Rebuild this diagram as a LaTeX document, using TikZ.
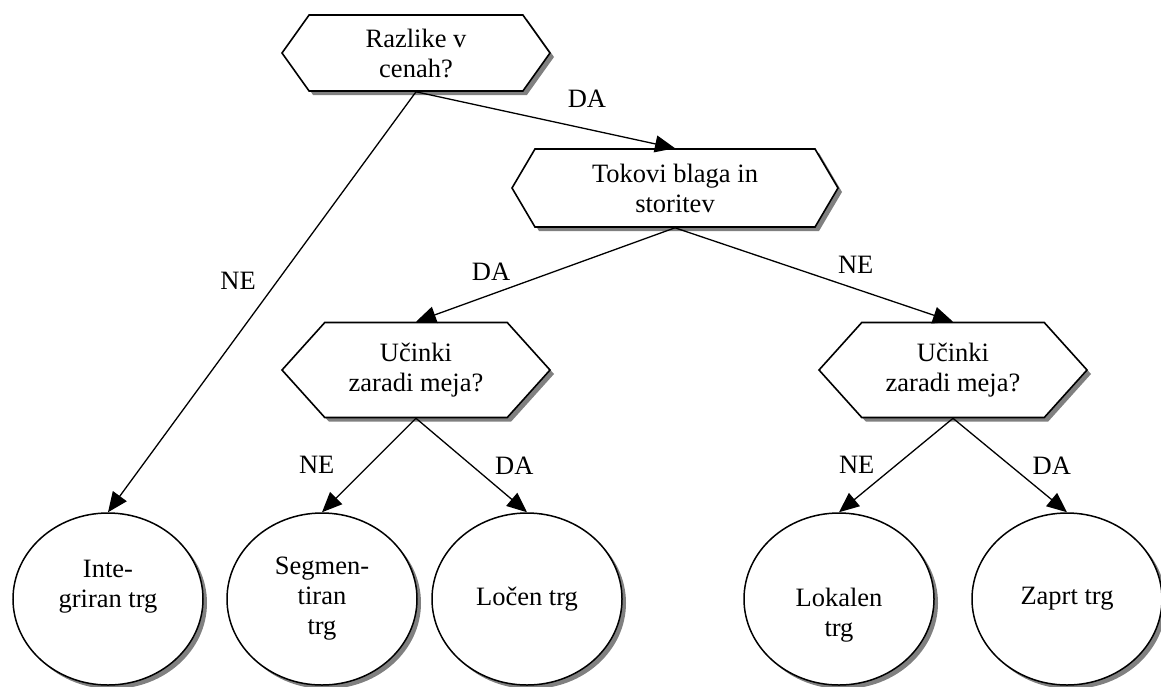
\documentclass[tikz,border=0pt]{standalone}
\usepackage{fontspec}
\setmainfont{Liberation Serif}
\usepackage{tikz}
\usetikzlibrary{arrows.meta, positioning, shapes.geometric, shapes.symbols, shadows}

\begin{document}
\begin{tikzpicture}[
    x=1pt, y=-1pt,
    >={Triangle[length=20pt, width=17pt]},
    font={\fontsize{26.5}{30}\selectfont},
    hexa/.style={signal, signal to=west and east, draw, fill=white,
                 line width=1.6pt, align=center, inner sep=0pt,
                 drop shadow={shadow xshift=4pt, shadow yshift=-4pt,
                              fill=cshadow, opacity=1}},
    trg/.style={ellipse, draw, fill=white, line width=1.5pt, align=center,
                minimum width=190pt, minimum height=172pt, inner sep=0pt,
                drop shadow={shadow xshift=4pt, shadow yshift=-4pt,
                             fill=cshadow, opacity=1}},
    arr/.style={->, line width=1.3pt},
    lbl/.style={inner sep=0pt},
]
\definecolor{cshadow}{HTML}{808080}
\useasboundingbox (0,0) rectangle (1161,686);
% ---- vprasanja ----
\node[hexa, minimum width=268pt, minimum height=76pt, signal pointer angle=109]
    (cene) at (416,53) {Razlike v\\cenah?};
\node[hexa, minimum width=326pt, minimum height=78pt, signal pointer angle=119]
    (tokovi) at (675,188) {Tokovi blaga in\\storitev};
\node[hexa, minimum width=268pt, minimum height=95pt, signal pointer angle=96]
    (mejeL) at (416,370) {Učinki\\zaradi meja?};
\node[hexa, minimum width=268pt, minimum height=95pt, signal pointer angle=96]
    (mejeD) at (953,370) {Učinki\\zaradi meja?};
% ---- vrste trgov ----
\node[trg] (integ) at (108,599) {Inte-\\griran trg\\\mbox{}};
\node[trg] (segm)  at (322,599) {Segmen-\\tiran\\trg};
\node[trg] (locen) at (527,599) {Ločen trg};
\node[trg] (lokal) at (839,599) {\strut\\Lokalen\\trg};
\node[trg] (zaprt) at (1067,599) {Zaprt trg};

% ---- puscice ----
\draw[arr] (cene.south) -- node[lbl, pos=.66, above=21pt]{DA} (tokovi.north);
\draw[arr] (cene.south) -- node[lbl, pos=.45, left=21pt]{NE} (integ.north);
\draw[arr] (tokovi.south) -- node[lbl, pos=.71, above=13pt]{DA} (mejeL.north);
\draw[arr] (tokovi.south) -- node[lbl, pos=.65, above=15pt]{NE} (mejeD.north);
\draw[arr] (mejeL.south) -- node[lbl, left=34pt]{NE} (segm.north);
\draw[arr] (mejeL.south) -- node[lbl, right=23pt]{DA} (locen.north);
\draw[arr] (mejeD.south) -- node[lbl, left=21pt]{NE} (lokal.north);
\draw[arr] (mejeD.south) -- node[lbl, right=22pt]{DA} (zaprt.north);
\end{tikzpicture}
\end{document}
